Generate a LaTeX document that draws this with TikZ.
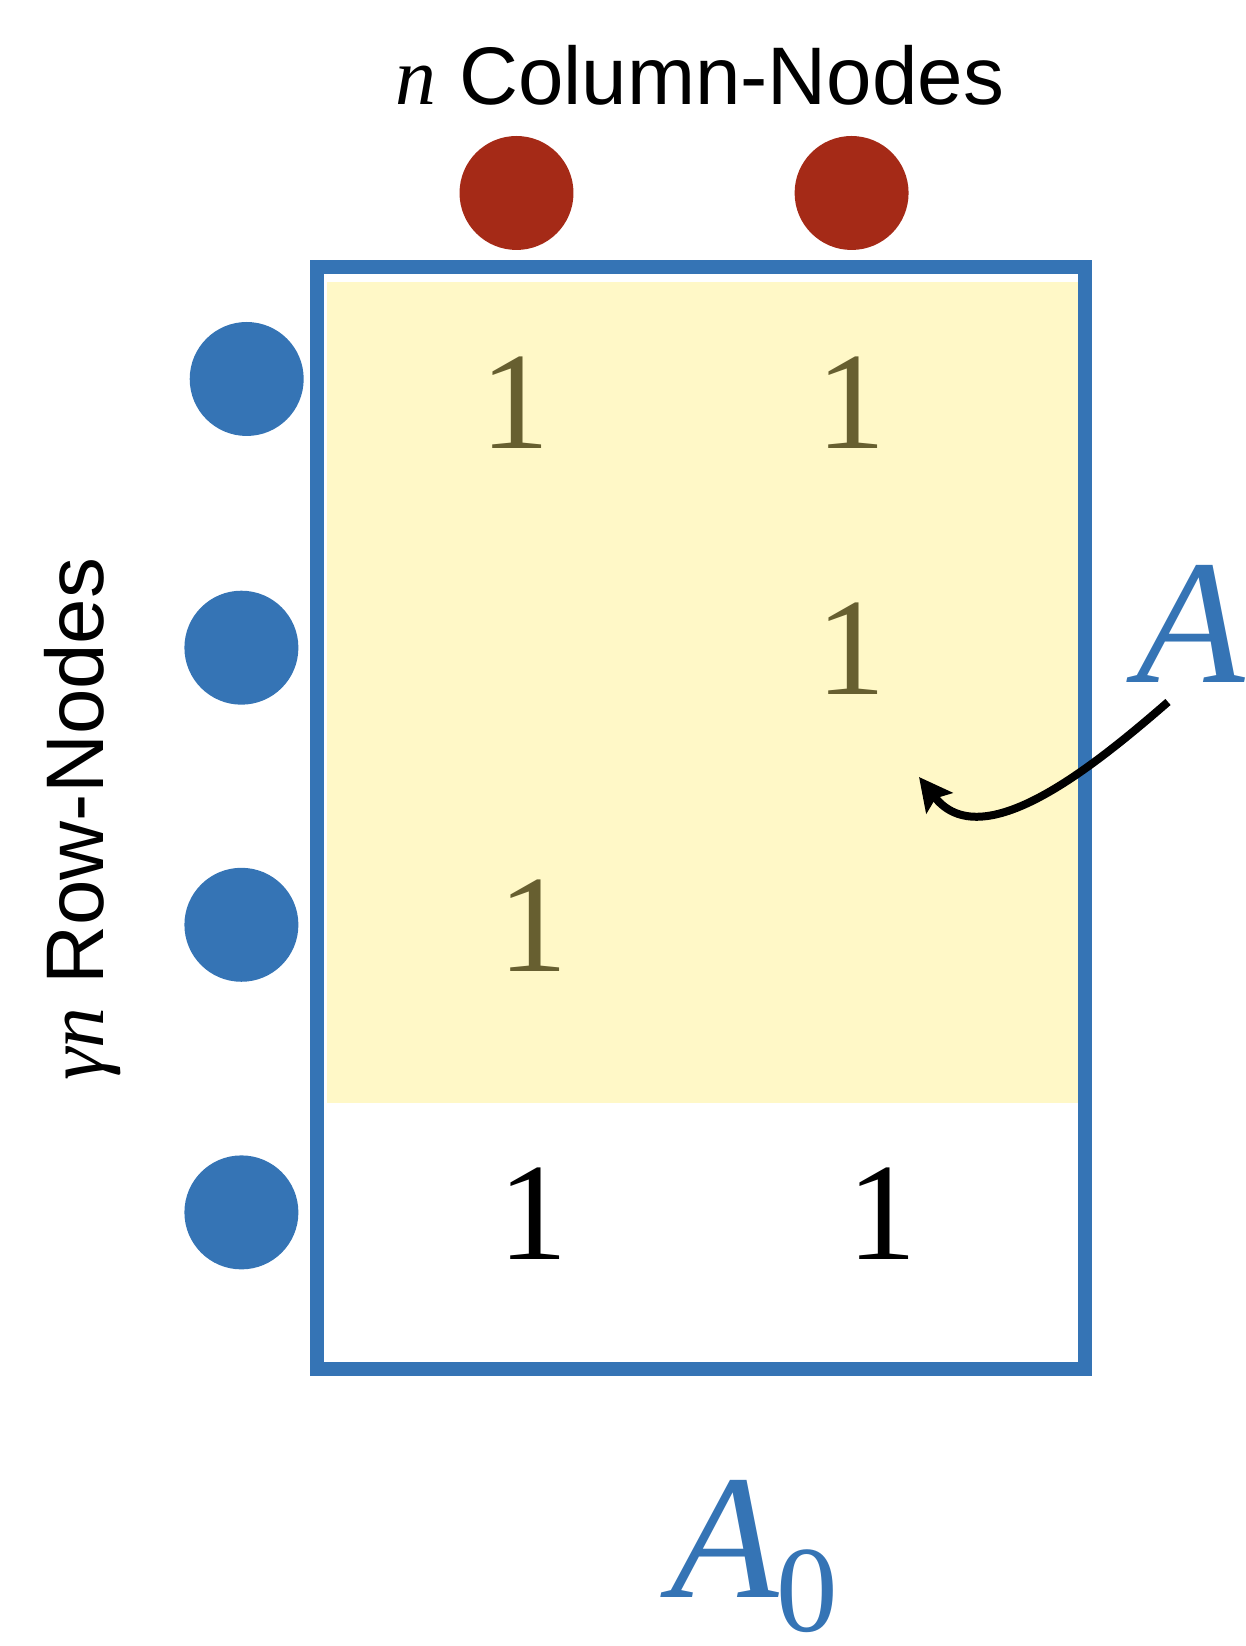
\documentclass[tikz,border=0pt]{standalone}
\usepackage{fontspec}
\newfontfamily\serifnum{Liberation Serif}
\newfontfamily\sanslabel{Liberation Sans}
\usetikzlibrary{arrows.meta}
\definecolor{matblue}{HTML}{3574B5}
\definecolor{colred}{HTML}{A52A17}
\definecolor{softyellow}{HTML}{FFF8C7}
\definecolor{olivenum}{HTML}{675F30}
\tikzset{
  rownode/.style={circle, fill=matblue, minimum size=2.28cm, inner sep=0pt},
  colnode/.style={circle, fill=colred, minimum size=2.28cm, inner sep=0pt},
  cellentry/.style={anchor=base, inner sep=0pt, font=\serifnum\fontsize{79}{79}\selectfont},
  sidelabel/.style={anchor=base, inner sep=0pt, font=\sanslabel\fontsize{46.5}{50}\selectfont},
  matlabel/.style={inner sep=0pt, text=matblue, font=\serifnum\itshape\fontsize{101}{101}\selectfont},
  pointarrow/.style={-{Stealth[length=0.66cm, width=0.66cm, inset=0.12cm]}, line width=0.16cm}
}

\begin{document}
\begin{tikzpicture}[x=0.02cm, y=0.02cm]
  \useasboundingbox (0,0) rectangle (1246,1646);
  \fill[softyellow] (327,543) rectangle (1078,1364);
  \draw[matblue, line width=0.28cm] (317,277) rectangle (1085,1379);

  \node[colnode] (c1) at (516.5,1453) {};
  \node[colnode] (c2) at (851.6,1453) {};
  \node[rownode] (r1) at (246.7,1267) {};
  \node[rownode] (r2) at (241.4,998.3) {};
  \node[rownode] (r3) at (241.4,721.2) {};
  \node[rownode] (r4) at (241.4,433.6) {};

  \node[sidelabel] (coltext) at (700,1541) {{\serifnum\itshape n} Column-Nodes};
  \node[sidelabel, rotate=90] (rowtext) at (103,827) {{\serifnum\itshape γn} Row-Nodes};

  \node[cellentry, text=olivenum] (e11) at (515,1197) {1};
  \node[cellentry, text=olivenum] (e12) at (851,1197) {1};
  \node[cellentry, text=olivenum] (e22) at (851,951) {1};
  \node[cellentry, text=olivenum] (e31) at (533,674) {1};
  \node[cellentry] (e41) at (533,386) {1};
  \node[cellentry] (e42) at (882,386) {1};

  \node[matlabel, anchor=base] (amat) at (1191,963) {A};
  \node[matlabel, anchor=base west] (azero) at (670,48) {A\upshape\kern-1.5pt\raisebox{-19pt}{\fontsize{70}{70}\selectfont 0}};

  \coordinate (astart) at (1168,944);
  \coordinate (atip) at (919,869);
  \draw[pointarrow] (astart) to[out=221, in=-52] (atip);
\end{tikzpicture}
\end{document}
